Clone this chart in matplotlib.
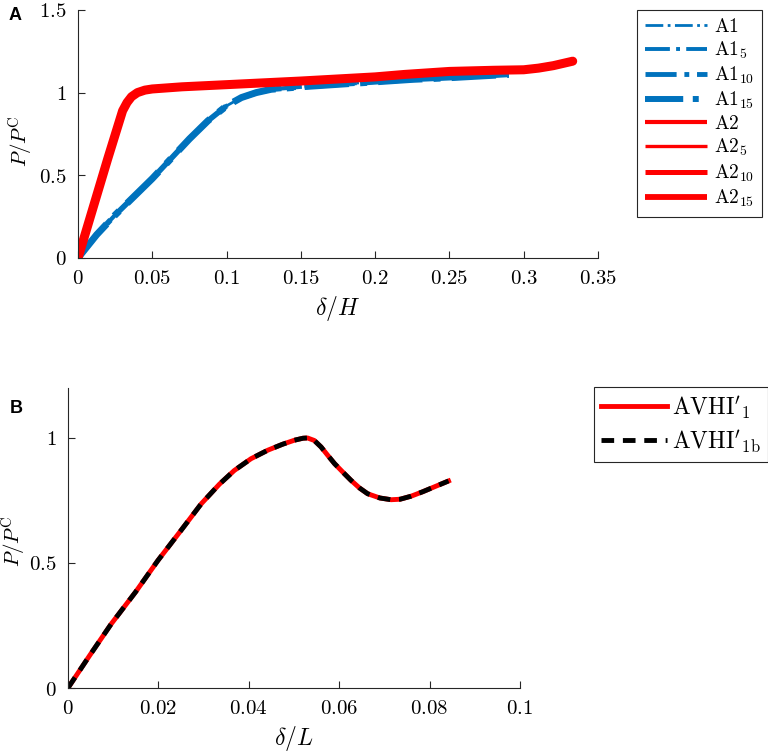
import matplotlib
matplotlib.use("Agg")
import matplotlib.pyplot as plt

plt.rcParams['mathtext.fontset'] = 'cm'
plt.rcParams['font.family'] = 'DejaVu Serif'

# panel A: blue family (A1...) and red family (A2...)
a1_x = [0, 0.0125, 0.025, 0.0375, 0.05, 0.0625, 0.075, 0.0875, 0.1, 0.11, 0.12,
        0.13, 0.15, 0.175, 0.2, 0.225, 0.25, 0.27, 0.29]
a1_y = [0, 0.14, 0.26, 0.37, 0.48, 0.60, 0.72, 0.83, 0.92, 0.97, 1.0,
        1.02, 1.035, 1.05, 1.065, 1.08, 1.09, 1.10, 1.11]
a2_x = [0, 0.01, 0.02, 0.03, 0.033, 0.036, 0.04, 0.045, 0.05, 0.07, 0.1, 0.15,
        0.2, 0.22, 0.25, 0.28, 0.3, 0.31, 0.32, 0.333]
a2_y = [0, 0.30, 0.60, 0.89, 0.94, 0.975, 1.0, 1.015, 1.022, 1.035, 1.048, 1.07,
        1.095, 1.11, 1.128, 1.135, 1.138, 1.148, 1.163, 1.19]
a1_labels = [r'$\mathrm{A1}$', r'$\mathrm{A1}_{5}$', r'$\mathrm{A1}_{10}$', r'$\mathrm{A1}_{15}$']
a2_labels = [r'$\mathrm{A2}$', r'$\mathrm{A2}_{5}$', r'$\mathrm{A2}_{10}$', r'$\mathrm{A2}_{15}$']
a1_widths = [2, 3, 4, 5]
a2_widths = [3, 2.5, 4, 6.5]
# line widths shown in the legend box
a1_leg_widths = [2, 2.8, 3.5, 4.3]
a2_leg_widths = [3, 2.4, 3.6, 4.2]

# panel B
b_x = [0, 0.0048, 0.0096, 0.015, 0.0199, 0.025, 0.0295, 0.0335, 0.0368, 0.0405,
       0.0442, 0.0475, 0.0501, 0.052, 0.053, 0.0545, 0.056, 0.0575, 0.059, 0.061,
       0.0626, 0.0645, 0.0663, 0.069, 0.0715, 0.0735, 0.0759, 0.0785, 0.081, 0.0842]
b_y = [0, 0.13, 0.257, 0.385, 0.51, 0.63, 0.737, 0.815, 0.87, 0.917,
       0.951, 0.975, 0.991, 0.999, 1.0, 0.99, 0.964, 0.93, 0.897, 0.86,
       0.831, 0.80, 0.777, 0.76, 0.753, 0.755, 0.767, 0.785, 0.804, 0.828]

blue = '#0072BD'
red = '#FF0000'
spine_col = '#262626'

fig = plt.figure(figsize=(7.68, 7.52), dpi=100)

def style(ax):
    ax.spines['top'].set_visible(False)
    ax.spines['right'].set_visible(False)
    for s in ['left', 'bottom']:
        ax.spines[s].set_color(spine_col)
        ax.spines[s].set_linewidth(0.8)
    ax.tick_params(direction='in', length=5, width=0.8, color=spine_col,
                   labelsize=15, pad=8)

# ---- A ----
axA = fig.add_axes([0.1016, 0.657, 0.677, 0.3298])
for lw, lab in zip(a1_widths, a1_labels):
    axA.plot(a1_x, a1_y, color=blue, lw=lw, linestyle='-.', label=lab)
for lw, lab in zip(a2_widths, a2_labels):
    axA.plot(a2_x, a2_y, color=red, lw=lw, label=lab, solid_capstyle='round')
axA.set_xlim(0, 0.35)
axA.set_ylim(0, 1.5)
xtA = [0, 0.05, 0.1, 0.15, 0.2, 0.25, 0.3, 0.35]
axA.set_xticks(xtA)
axA.set_xticklabels(['$0$', '$0.05$', '$0.1$', '$0.15$', '$0.2$', '$0.25$', '$0.3$', '$0.35$'])
axA.set_yticks([0, 0.5, 1, 1.5])
axA.set_yticklabels(['$0$', '$0.5$', '$1$', '$1.5$'])
axA.set_xlabel(r'$\delta/H$', fontsize=17, labelpad=4)
axA.set_ylabel(r'$P/P^{\mathrm{C}}$', fontsize=15, va='center')
axA.yaxis.set_label_coords(-0.1096, 0.47)
style(axA)
legA = axA.legend(loc='upper left', bbox_to_anchor=(637 / 768, 1 - 10 / 752),
                  bbox_transform=fig.transFigure, fontsize=14, handlelength=3.2,
                  fancybox=False, framealpha=1, edgecolor=spine_col,
                  labelspacing=0.2, borderpad=0.4, handletextpad=0.35, borderaxespad=0)
legA.get_frame().set_linewidth(0.8)
for h, lw in zip(legA.get_lines(), a1_leg_widths + a2_leg_widths):
    h.set_linewidth(lw)
    h.set_solid_capstyle('butt')
fig.text(0.011, 0.98, 'A', fontsize=13, fontweight='bold', family='Liberation Sans',
         va='center', ha='left')

# ---- B ----
axB = fig.add_axes([0.0885, 0.0851, 0.5885, 0.399])
axB.plot(b_x, b_y, color=red, lw=3.5, label=r"$\mathrm{AVHI}'_{1}$")
axB.plot(b_x, b_y, color='black', lw=3.5, dashes=(2.6, 1.8), label=r"$\mathrm{AVHI}'_{1\mathrm{b}}$")
axB.set_xlim(0, 0.1)
axB.set_ylim(0, 1.2)
axB.set_xticks([0, 0.02, 0.04, 0.06, 0.08, 0.1])
axB.set_xticklabels(['$0$', '$0.02$', '$0.04$', '$0.06$', '$0.08$', '$0.1$'])
axB.set_yticks([0, 0.5, 1])
axB.set_yticklabels(['$0$', '$0.5$', '$1$'])
axB.set_xlabel(r'$\delta/L$', fontsize=17, labelpad=4)
axB.set_ylabel(r'$P/P^{\mathrm{C}}$', fontsize=15, va='center')
axB.yaxis.set_label_coords(-0.1195, 0.49)
style(axB)
legB = axB.legend(loc='upper left', bbox_to_anchor=(594 / 768, 1 - 387 / 752),
                  bbox_transform=fig.transFigure, fontsize=17, handlelength=2.8,
                  fancybox=False, framealpha=1, edgecolor=spine_col,
                  labelspacing=0.3, borderpad=0.3, handletextpad=0.2, borderaxespad=0)
legB.get_frame().set_linewidth(0.8)
fig.text(0.013, 0.457, 'B', fontsize=13, fontweight='bold', family='Liberation Sans',
         va='center', ha='left')

fig.savefig('out.png', dpi=100)
